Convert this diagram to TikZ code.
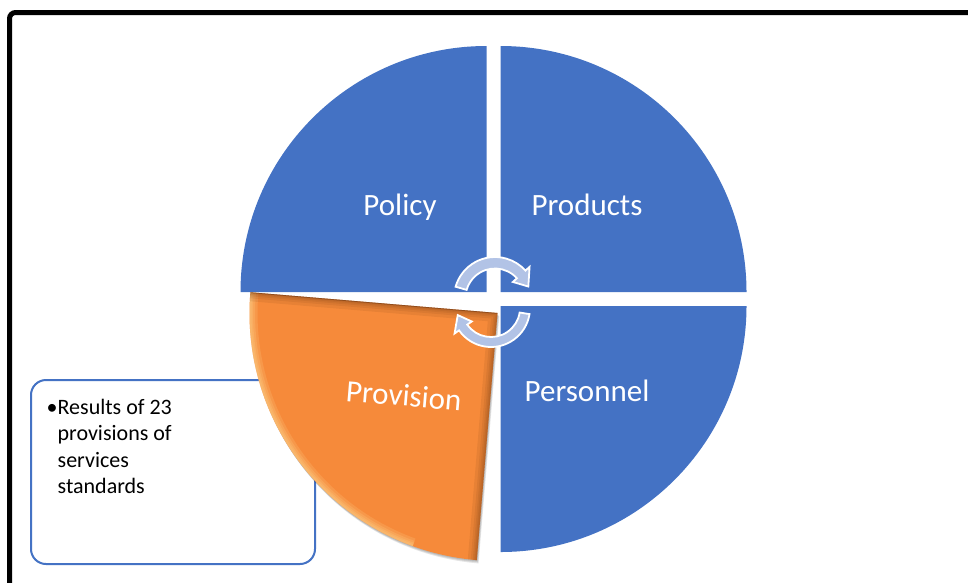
\documentclass[tikz,border=0pt]{standalone}
\usepackage{fontspec}
\setmainfont{Carlito}
\definecolor{pieblue}{HTML}{4472C4}
\definecolor{pieorange}{HTML}{F68A3A}
\definecolor{bevdark}{HTML}{6A3510}
\definecolor{bevlight}{HTML}{FFE3A0}
\definecolor{cycblue}{RGB}{178,195,230}
\begin{document}
\begin{tikzpicture}[x=1pt,y=-1pt,
  quarter/.style={fill=pieblue},
  plabel/.style={text=white,inner sep=0pt,font=\fontsize{31}{37}\selectfont},
  cyc/.style={fill=cycblue,draw=white,line width=1.8pt,line join=miter},
  notebox/.style={draw=pieblue,line width=2pt,rounded corners=15pt,fill=white}]
\clip (0,0) rectangle (968,582);
\fill[white] (0,0) rectangle (968,582);

% frame, open towards the right and the bottom
\draw[line width=5pt,rounded corners=6pt] (9.5,700) |- (1100,12.5);

% note box behind the exploded slice
\node[notebox,minimum width=284pt,minimum height=184pt,inner sep=0pt] (note) at (173,472) {};
\node[anchor=base west,inner sep=0pt,font=\fontsize{22}{26.6}\selectfont] (notetext) at (46.5,414)
  {\begin{tabular}[t]{@{}l@{}l@{}}\textbullet&Results of 23\\ &provisions of\\ &services\\ &standards\end{tabular}};

% three quarters of the pie
\fill[quarter] (486.5,292) -- ++(180:246) arc (180:270:246) -- cycle;
\fill[quarter] (500.5,292) -- ++(270:246) arc (270:360:246) -- cycle;
\fill[quarter] (500.5,306) -- ++(0:246) arc (0:90:246) -- cycle;

% exploded quarter with soft shadow and bevel
\begin{scope}[shift={(497.5,313)}]
  \foreach \d in {1,2,3}
    \fill[black,opacity=0.1] (\d*0.6,\d*1.1) -- ++(94.8:248) arc (94.8:184.8:248) -- cycle;
  \fill[pieorange] (0,0) -- ++(94.8:248) arc (94.8:184.8:248) -- cycle;
  \begin{scope}
    \clip (0,0) -- ++(94.8:248) arc (94.8:184.8:248) -- cycle;
    \foreach \w in {16,11,7,4}
      \draw[bevlight,line width=\w pt,opacity=0.16] (184.8:248) arc (184.8:110:248);
    \foreach \w in {18,12,8,5,2.5}
      \draw[bevdark,line width=\w pt,opacity=0.1] (184.8:248) -- (0,0) -- (94.8:248);
    \draw[bevdark,line width=1.5pt,opacity=0.5] (184.8:248) -- (0,0);
  \end{scope}
\end{scope}

% labels
\node[plabel,anchor=base] (policy) at (400,215) {Policy};
\node[plabel,anchor=base] (products) at (587,215) {Products};
\node[plabel,anchor=base] (personnel) at (587,401) {Personnel};
\node[plabel,anchor=base,rotate=-4.8] (provision) at (403,406) {Provision};

% cycle arrows in the middle
\begin{scope}[shift={(495,298)}]
  \path[cyc] (196:41) arc (196:318:41) -- (318:46.5) -- (341:35.25)
    -- (318:24) -- (318:29.5) arc (318:196:29.5) -- cycle;
\end{scope}
\begin{scope}[shift={(491,308)}]
  \path[cyc] (9:39) arc (9:145:39) -- (145:44.5) -- (168:34)
    -- (145:23.5) -- (145:29) arc (145:9:29) -- cycle;
\end{scope}
\end{tikzpicture}
\end{document}
